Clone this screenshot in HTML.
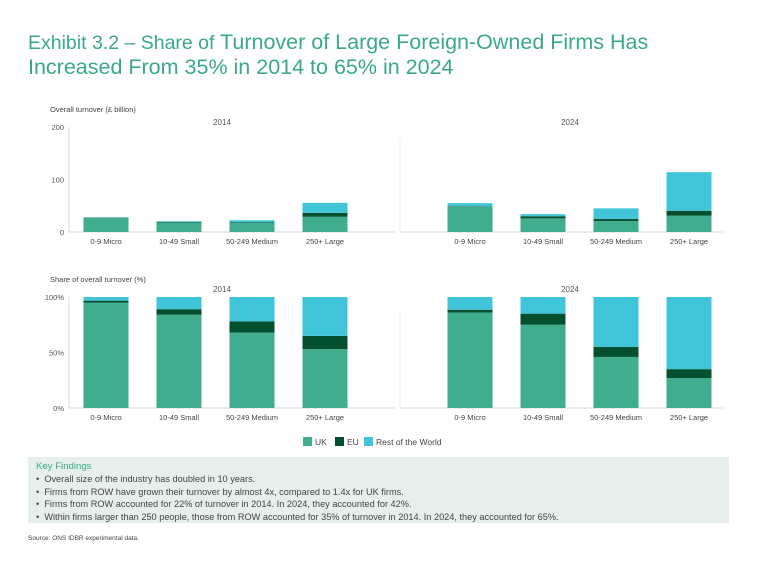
<!DOCTYPE html>
<html><head><meta charset="utf-8"><style>
body{margin:0;width:768px;height:567px;background:#fff;font-family:"Liberation Sans",sans-serif;overflow:hidden;position:relative}
.t{position:absolute;left:28px;color:#3aa98a;white-space:nowrap}
#box{position:absolute;left:28px;top:457px;width:701px;height:66px;background:#e6efec}
#box div{font-size:9.2px;color:#444;line-height:12.4px;margin-left:8px}
#box .kh{color:#3aa98a;font-size:9.6px;margin-top:4px}
</style></head><body>
<div class="t" style="top:30px;font-size:21.5px"><span style="font-size:19.5px">Exhibit 3.2 – Share of</span> Turnover of Large Foreign-Owned Firms Has</div>
<div class="t" style="top:55px;font-size:21.5px">Increased From 35% in 2014 to 65% in 2024</div>
<svg id="c" width="768" height="567" style="position:absolute;left:0;top:0"></svg>
<div id="box">
<div class="kh">Key Findings</div>
<div>•&nbsp; Overall size of the industry has doubled in 10 years.</div>
<div>•&nbsp; Firms from ROW have grown their turnover by almost 4x, compared to 1.4x for UK firms.</div>
<div>•&nbsp; Firms from ROW accounted for 22% of turnover in 2014. In 2024, they accounted for 42%.</div>
<div>•&nbsp; Within firms larger than 250 people, those from ROW accounted for 35% of turnover in 2014. In 2024, they accounted for 65%.</div>
</div>
<div style="position:absolute;left:28px;top:535px;font-size:6.5px;color:#444">Source: ONS IDBR experimental data.</div>
<script>
const categories=["0-9 Micro","10-49 Small","50-249 Medium","250+ Large"];
const years=["2014","2024"];
const seriesNames=["UK","EU","Rest of the World"];
const uk2014=[27,18,17,29];const eu2014=[0.5,1,1.5,7.5];const row2014=[0.5,1.5,4,19];
const uk2024=[48,26,21,31];const eu2024=[1,4,4,9.5];const row2024=[6,4,20,73.5];
const ukShare2014=[95,84,68,53];const euShare2014=[1.7,5,10,12];const rowShare2014=[3.3,11,22,35];
const ukShare2024=[86,75,46,27];const euShare2024=[2.5,10,9,8];const rowShare2024=[11.5,15,45,65];
const topTicks=[0,100,200];const topTickLabels=["0","100","200"];
const botTicks=[0,50,100];const botTickLabels=["0%","50%","100%"];
const colors=["#41ad8f","#044f2e","#40c5d8"];
const svg=document.getElementById('c');const NS="http://www.w3.org/2000/svg";
function mk(t,a,txt){const e=document.createElementNS(NS,t);for(const k in a)e.setAttribute(k,a[k]);if(txt!==undefined)e.textContent=txt;svg.appendChild(e);return e;}
const xCenter=(p,i)=>(p===0?106:470)+i*73;
const yTop=v=>232-v*0.525;const yBot=v=>408-v*1.11;
function panel(yf,base,data,tag){
  data.forEach((ser,p)=>{categories.forEach((c,i)=>{let acc=0;ser.forEach((vals,s)=>{const v=vals[i];const r=mk('rect',{x:xCenter(p,i)-22.5,y:yf(acc+v),width:45,height:yf(acc)-yf(acc+v),fill:colors[s]});
    
    acc+=v;});
    const t=mk('text',{x:xCenter(p,i),y:base+12,'font-size':7.5,fill:'#444','text-anchor':'middle'},c);
    });});
}
[[232,yTop,topTicks,topTickLabels,127],[408,yBot,botTicks,botTickLabels,297]].forEach(([b,yf,tk,tl,top])=>{
  mk('line',{x1:69,y1:top,x2:69,y2:b,stroke:'#d9d9d9'});
  mk('line',{x1:69,y1:b,x2:395,y2:b,stroke:'#d9d9d9'});
  mk('line',{x1:400,y1:top+12,x2:400,y2:b,stroke:'#eee'});
  mk('line',{x1:400,y1:b,x2:726,y2:b,stroke:'#d9d9d9'});
  tk.forEach((v,i)=>{const t=mk('text',{x:64,y:yf(v)+3,'font-size':7.5,fill:'#555','text-anchor':'end'},tl[i]);});
});
panel(yTop,232,[[uk2014,eu2014,row2014],[uk2024,eu2024,row2024]],'bar');
panel(yBot,408,[[ukShare2014,euShare2014,rowShare2014],[ukShare2024,euShare2024,rowShare2024]],'share-bar');
let e;
e=mk('text',{x:50,y:112,'font-size':7.5,fill:'#444'},'Overall turnover (£ billion)');
e=mk('text',{x:50,y:282,'font-size':7.5,fill:'#444'},'Share of overall turnover (%)');
[[125],[292]].forEach(([y])=>{years.forEach((yr,p)=>{const t=mk('text',{x:p===0?222:570,y:y,'font-size':8,fill:'#555','text-anchor':'middle'},yr);});});
const lx=[303,335,364];
seriesNames.forEach((n,s)=>{const r=mk('rect',{x:lx[s],y:437,width:9,height:9,fill:colors[s]});
  const t=mk('text',{x:lx[s]+12,y:445,'font-size':8.5,fill:'#444'},n);});
</script>
</body></html>
